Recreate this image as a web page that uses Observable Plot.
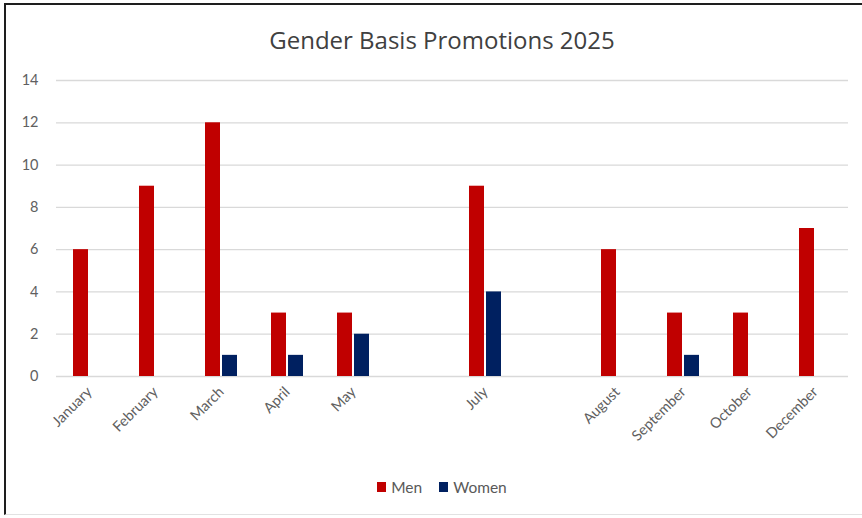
<!DOCTYPE html>
<html>
<head>
<meta charset="utf-8">
<script src="https://cdn.jsdelivr.net/npm/d3@7"></script>
<script src="https://cdn.jsdelivr.net/npm/@observablehq/plot@0.6"></script>
<style>
  html, body { margin: 0; padding: 0; background: #fff; }
  #wrap { position: relative; width: 862px; height: 518px; overflow: hidden; background: #fff; font-family: Lato, "Open Sans", sans-serif; }
  #frame { position: absolute; left: 4px; top: 3px; width: 900px; height: 512px; border-left: 2px solid #1e1e1e; border-top: 2px solid #1e1e1e; border-bottom: 1px solid #e2e2e2; box-sizing: border-box; }
  #title { position: absolute; left: 0; width: 884px; top: 23px; text-align: center; font-family: "Open Sans", Lato, sans-serif; font-size: 24px; color: #404040; }
  #chart { position: absolute; left: 0; top: 60px; }
  #legend { position: absolute; left: 0; width: 884px; top: 478px; display: flex; justify-content: center; align-items: center; gap: 17px; font-size: 15.5px; color: #595959; }
  .item { display: flex; align-items: center; gap: 5px; }
  .sw { width: 9px; height: 10px; display: inline-block; }
</style>
</head>
<body>
<div id="wrap">
  <div id="frame"></div>
  <div id="title"></div>
  <div id="chart"></div>
  <div id="legend"></div>
</div>
<script>
const titleText = "Gender Basis Promotions 2025";
const months = ["January","February","March","April","May","(gap 1)","July","(gap 2)","August","September","October","December"];
const monthLabels = ["January","February","March","April","May","","July","","August","September","October","December"];
const men = [6, 9, 12, 3, 3, null, 9, null, 6, 3, 3, 7];
const women = [0, 0, 1, 1, 2, null, 4, null, 0, 1, 0, 0];
const series = ["Men", "Women"];
const colors = ["#C00000", "#002060"];
const yTicks = [0, 2, 4, 6, 8, 10, 12, 14];

const data = months.flatMap((m, i) => [
  {month: m, gender: "Men", value: men[i]},
  {month: m, gender: "Women", value: women[i]}
]);
const gridRows = months.flatMap(m => yTicks.map(t => ({month: m, tick: t})));

document.getElementById("title").textContent = titleText;

const chart = Plot.plot({
  width: 862,
  height: 396,
  marginTop: 20,
  marginBottom: 80,
  marginLeft: 56,
  marginRight: 14,
  style: {fontFamily: "Lato, 'Open Sans', sans-serif", fontSize: "14.5px", color: "#606060", background: "transparent", overflow: "visible"},
  fx: {domain: months, padding: 0, label: null, tickRotate: -45, tickSize: 0, tickPadding: 13,
       tickFormat: d => monthLabels[months.indexOf(d)]},
  x: {domain: series, axis: null, paddingInner: 0.114, paddingOuter: 0.94},
  y: {domain: [0, 14], ticks: yTicks, label: null, tickSize: 0, tickPadding: 18},
  color: {domain: series, range: colors},
  marks: [
    Plot.ruleY(gridRows, {fx: "month", y: "tick", stroke: "#d9d9d9", strokeWidth: 1.3}),
    Plot.barY(data.filter(d => d.value != null), {fx: "month", x: "gender", y: "value", fill: "gender"})
  ]
});
document.getElementById("chart").appendChild(chart);

const legend = document.getElementById("legend");
series.forEach((s, i) => {
  const it = document.createElement("div");
  it.className = "item";
  const sw = document.createElement("span");
  sw.className = "sw";
  sw.style.background = colors[i];
  const t = document.createElement("span");
  t.textContent = s;
  it.appendChild(sw); it.appendChild(t);
  legend.appendChild(it);
});
</script>
</body>
</html>
